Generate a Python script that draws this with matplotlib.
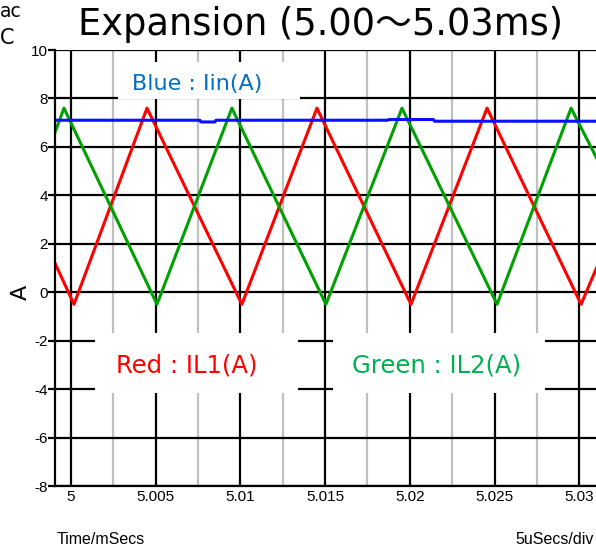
import matplotlib
matplotlib.use('Agg')
import matplotlib.pyplot as plt
from matplotlib.patches import Rectangle
from matplotlib.ticker import FixedLocator

# ---------------------------------------------------------------------------
# data (time in ms, current in A)
# ---------------------------------------------------------------------------
t_red  = [4.99906, 5.00018, 5.00449, 5.01009, 5.01452, 5.02007, 5.02456, 5.03011, 5.03120]
i_red  = [1.2,     -0.5,    7.6,     -0.5,    7.6,     -0.5,    7.6,     -0.5,    1.3]

t_green = [4.99906, 4.99959, 5.00508, 5.00950, 5.01505, 5.01954, 5.02515, 5.02952, 5.03120]
i_green = [6.6,     7.6,     -0.5,    7.6,     -0.5,    7.6,     -0.5,    7.6,     5.3]

t_blue = [4.99906, 5.00761, 5.00767, 5.00850, 5.00856, 5.01870, 5.01876, 5.02140, 5.02146, 5.03120]
i_blue = [7.10,    7.10,    7.03,    7.03,    7.10,    7.10,    7.13,    7.13,    7.06,    7.06]

x_ticks  = [5.0, 5.005, 5.01, 5.015, 5.02, 5.025, 5.03]
x_labels = ['5', '5.005', '5.01', '5.015', '5.02', '5.025', '5.03']
x_minor  = [5.0025, 5.0075, 5.0125, 5.0175, 5.0225, 5.0275]
y_ticks  = [-8, -6, -4, -2, 0, 2, 4, 6, 8, 10]

TITLE = 'Expansion (5.00～5.03ms)'
WIDE  = ['DejaVu Sans', 'Noto Sans CJK JP']
ARIAL = ['Liberation Sans', 'DejaVu Sans']

# ---------------------------------------------------------------------------
W, H = 596, 551
fig = plt.figure(figsize=(W / 100, H / 100), dpi=100)

left, top, bottom = 55, 50, 486
ax = fig.add_axes([left / W, 1 - bottom / H, (W - left) / W, (bottom - top) / H])

ax.set_xlim(4.99906, 5.03099)
ax.set_ylim(-8, 10)

# grid
for x in x_minor:
    ax.axvline(x, color='#c0c0c0', lw=1.6, zorder=1)
for x in x_ticks:
    ax.axvline(x, color='black', lw=1.6, zorder=1)
for y in y_ticks:
    ax.axhline(y, color='black', lw=1.6, zorder=1)

# white boxes behind the labels
for (x0, x1, y0, y1) in [(0.0739, 0.449, 0.2133, 0.3509),
                         (0.5139, 0.9057, 0.2133, 0.3509),
                         (0.1165, 0.4529, 0.8876, 0.9725)]:
    ax.add_patch(Rectangle((x0, y0), x1 - x0, y1 - y0, transform=ax.transAxes,
                           facecolor='white', edgecolor='none', zorder=2))

ax.plot(t_blue, i_blue, color='#0a10ff', lw=2.2, zorder=4)
ax.plot(t_red, i_red, color='#ff0000', lw=2.2, zorder=3)
ax.plot(t_green, i_green, color='#00a000', lw=2.2, zorder=3)

ax.text(0.2625, 0.922, 'Blue : Iin(A)', transform=ax.transAxes, ha='center', va='center',
        color='#0070c0', fontsize=16, family=WIDE, zorder=5)
ax.text(0.244, 0.2775, 'Red : IL1(A)', transform=ax.transAxes, ha='center', va='center',
        color='#ff0000', fontsize=17.5, family=WIDE, zorder=5)
ax.text(0.706, 0.2775, 'Green : IL2(A)', transform=ax.transAxes, ha='center', va='center',
        color='#00b050', fontsize=17.5, family=WIDE, zorder=5)

# spines and ticks
for s in ['right', 'top']:
    ax.spines[s].set_visible(False)
for s in ['left', 'bottom']:
    ax.spines[s].set_linewidth(1.6)
    ax.spines[s].set_zorder(6)

ax.xaxis.set_major_locator(FixedLocator(x_ticks))
ax.set_xticklabels(x_labels, family=ARIAL, fontsize=11)
ax.set_yticks(y_ticks)
ax.set_yticklabels([str(v) for v in y_ticks], family=ARIAL, fontsize=11)
ax.tick_params(axis='x', length=0, pad=3)
ax.tick_params(axis='y', length=5, width=1.6, pad=0)

fig.text(21 / W, 1 - 292 / H, 'A', rotation=90, ha='center', va='center', fontsize=16, family=WIDE)
fig.text(320 / W, 1 - 35 / H, TITLE, ha='center', va='baseline', fontsize=26.5, family=WIDE)
fig.text(57 / W, 1 - 544 / H, 'Time/mSecs', ha='left', va='baseline', fontsize=11.5, family=ARIAL)
fig.text(594 / W, 1 - 544 / H, '5uSecs/div', ha='right', va='baseline', fontsize=11.5, family=ARIAL)

# fragments of labels at the left border of the original capture
fig.text(0, 1 - 17 / H, 'ac', ha='left', va='baseline', fontsize=13.5, family=WIDE)
fig.text(0, 1 - 44 / H, 'C', ha='left', va='baseline', fontsize=15, family=WIDE)

fig.savefig('out.png', dpi=100)
